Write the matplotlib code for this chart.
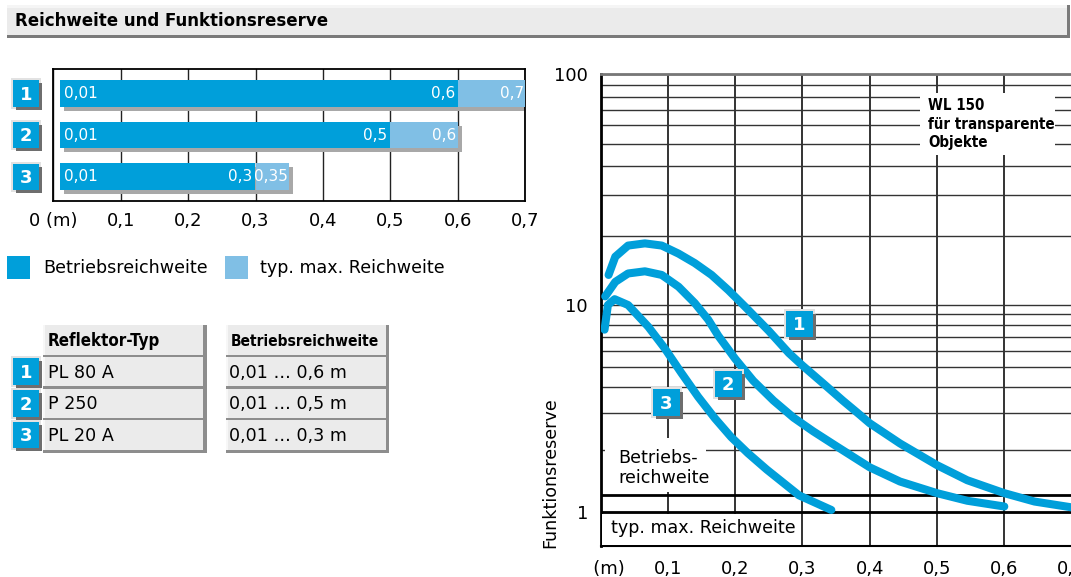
"""
Reichweite und Funktionsreserve (WL 150, transparente Objekte):
range bars per reflector, reflector table and the function-reserve curves.
"""

import numpy as np
import matplotlib
matplotlib.use("Agg")
import matplotlib.pyplot as plt
import matplotlib.transforms as mtransforms
from matplotlib.patches import Rectangle
from matplotlib.ticker import FixedLocator, NullFormatter

BLUE = "#009fda"
LIGHT = "#80bfe5"
W, H = 1071, 577

# --- range bars (m) ---
bar_ids = ["1", "2", "3"]
bar_start = [0.01, 0.01, 0.01]
bar_oper = [0.6, 0.5, 0.3]
bar_max = [0.7, 0.6, 0.35]
bar_start_lbl = ["0,01", "0,01", "0,01"]
bar_oper_lbl = ["0,6", "0,5", "0,3"]
bar_max_lbl = ["0,7", "0,6", "0,35"]
bar_xticks = [0, 0.1, 0.2, 0.3, 0.4, 0.5, 0.6, 0.7]
bar_xticklabels = ["0 (m)", "0,1", "0,2", "0,3", "0,4", "0,5", "0,6", "0,7"]

# --- reflector table ---
refl_types = ["PL 80 A", "P 250", "PL 20 A"]
refl_ranges = ["0,01 … 0,6 m", "0,01 … 0,5 m", "0,01 … 0,3 m"]

# --- function reserve curves (distance in m, reserve) ---
c1_x = [0.012, 0.022, 0.041, 0.066, 0.091, 0.116, 0.140, 0.165, 0.190, 0.215, 0.250,
        0.280, 0.300, 0.330, 0.360, 0.385, 0.400, 0.445, 0.500, 0.545, 0.600, 0.645, 0.700]
c1_y = [13.5, 16.2, 18.1, 18.5, 18.1, 16.7, 15.2, 13.5, 11.6, 9.8, 7.5,
        5.85, 5.1, 4.2, 3.45, 2.95, 2.68, 2.14, 1.68, 1.42, 1.23, 1.12, 1.05]
c2_x = [0.007, 0.022, 0.041, 0.066, 0.091, 0.116, 0.140, 0.160, 0.175, 0.200, 0.227,
        0.257, 0.287, 0.316, 0.350, 0.400, 0.445, 0.500, 0.545, 0.600]
c2_y = [10.9, 12.6, 13.7, 14.0, 13.5, 12.0, 10.2, 8.5, 7.1, 5.5, 4.3,
        3.45, 2.85, 2.45, 2.08, 1.64, 1.40, 1.23, 1.13, 1.06]
c3_x = [0.006, 0.011, 0.021, 0.041, 0.071, 0.095, 0.120, 0.145, 0.170, 0.194, 0.219,
        0.247, 0.295, 0.343]
c3_y = [7.6, 10.0, 10.6, 10.0, 7.85, 6.2, 4.7, 3.6, 2.83, 2.3, 1.92,
        1.6, 1.20, 1.02]
curve_badge_x = [0.2955, 0.190, 0.098]
curve_badge_y = [8.1, 4.15, 3.38]
oper_limit = 1.2
fx_ticks = [0, 0.1, 0.2, 0.3, 0.4, 0.5, 0.6, 0.7]
fx_labels = ["   (m)", "0,1", "0,2", "0,3", "0,4", "0,5", "0,6", "0,7"]
fy_ticks = [1, 10, 100]
fy_labels = ["1", "10", "100"]

# the drawn scale: log, but the upper decade is a bit taller than the lower one
K_UP = 230.7 / 206.7


def _fwd(v):
    with np.errstate(all="ignore"):
        l = np.log10(np.maximum(v, 1e-6))
    return np.where(l <= 1, l, 1 + (l - 1) * K_UP)


def _inv(u):
    return np.where(u <= 1, 10.0 ** u, 10.0 ** (1 + (u - 1) / K_UP))


plt.rcParams["font.family"] = "DejaVu Sans"
fig = plt.figure(figsize=(W / 100, H / 100), dpi=100)


def px_axes(x0, y0, x1, y1, **kw):
    return fig.add_axes([x0 / W, 1 - y1 / H, (x1 - x0) / W, (y1 - y0) / H], **kw)


BOLD = dict(fontweight="bold", fontstretch="condensed")

# ---------------- bar chart ----------------
axb = px_axes(53.3, 69.3, 525.1, 201)
y = np.arange(len(bar_ids))
start = np.array(bar_start)
oper = np.array(bar_oper)
mx = np.array(bar_max)
shadow = axb.transData + mtransforms.ScaledTranslation(4 / 100, -4 / 100, fig.dpi_scale_trans)
axb.barh(y, mx - start, left=start, height=0.64, color="#a8a8a8", transform=shadow, zorder=2)
axb.barh(y, mx - oper, left=oper, height=0.64, color=LIGHT, zorder=3)
axb.barh(y, oper - start, left=start, height=0.64, color=BLUE, zorder=3)
for i in range(len(y)):
    kw = dict(textcoords="offset points", va="center", color="white", fontsize=11, zorder=4)
    axb.annotate(bar_start_lbl[i], (start[i], y[i]), xytext=(3, 0), ha="left", **kw)
    axb.annotate(bar_oper_lbl[i], (oper[i], y[i]), xytext=(-2, 0), ha="right", **kw)
    axb.annotate(bar_max_lbl[i], (mx[i], y[i]), xytext=(-1, 0), ha="right", **kw)
axb.set_xlim(0, 0.7)
axb.set_ylim(2.58, -0.58)
axb.set_xticks(bar_xticks, labels=bar_xticklabels)
axb.set_yticks([])
axb.grid(axis="x", color="#222222", lw=1)
axb.set_axisbelow(True)
axb.tick_params(length=0, labelsize=13, pad=8)
for s in axb.spines.values():
    s.set_linewidth(1.3)

# ---------------- function reserve ----------------
axr = px_axes(600.5, 74.3, 1071.6, 545.7)
axr.set_yscale("function", functions=(_fwd, _inv))
for cx, cy in ((c1_x, c1_y), (c2_x, c2_y), (c3_x, c3_y)):
    axr.plot(cx, cy, color=BLUE, lw=5.8, solid_capstyle="round",
             solid_joinstyle="round", zorder=4)
axr.axhline(1, color="black", lw=2, zorder=3)
axr.axhline(oper_limit, color="black", lw=2, zorder=3)
axr.set_xlim(0, 0.7)
axr.set_ylim(0.685, 100)
axr.set_yticks(fy_ticks, labels=fy_labels)
axr.yaxis.set_minor_locator(FixedLocator(list(range(2, 10)) + list(range(20, 100, 10))))
axr.yaxis.set_minor_formatter(NullFormatter())
axr.set_xticks(fx_ticks, labels=fx_labels)
axr.grid(which="both", axis="y", color="#333333", lw=1)
axr.grid(which="major", axis="x", color="#111111", lw=1.2)
axr.set_axisbelow(True)
axr.tick_params(which="both", length=0, labelsize=13)
axr.tick_params(axis="y", pad=9)
axr.tick_params(axis="x", pad=10)
axr.spines["left"].set_linewidth(2)
axr.spines["bottom"].set_linewidth(1.5)
axr.spines["top"].set_color("#777777")
axr.spines["top"].set_linewidth(2)

# ---------------- overlay: title, legend, table, badges, notes ----------------
ov = fig.add_axes([0, 0, 1, 1], zorder=10)
ov.set_xlim(0, W)
ov.set_ylim(H, 0)
ov.axis("off")
ov.patch.set_alpha(0)


def rect(x, y0, w, h, c):
    ov.add_patch(Rectangle((x, y0), w, h, fc=c, ec="none"))


def badge(cx, cy, label, size=26.6):
    h = size / 2
    rect(cx - h - 2, cy - h - 2, size + 4, size + 4, "#e2e2e2")
    rect(cx - h + 3, cy - h + 3, size, size, "#6e6e6e")
    rect(cx - h, cy - h, size, size, BLUE)
    ov.text(cx, cy + 6.3, label, color="white", fontsize=13, fontweight="bold",
            ha="center", va="baseline")


# title bar
rect(6.8, 5, 1060.5, 30, "#ebebeb")
rect(6.8, 5, 1060.5, 3, "#f5f5f5")
rect(6.8, 35, 1063.2, 2.7, "#7a7a7a")
rect(1067.3, 5, 2.7, 32.7, "#7a7a7a")
ov.text(15.4, 21.5, "Reichweite und Funktionsreserve", fontsize=13.3, va="center", **BOLD)

# bar badges
bar_cy = axb.transData.transform(np.column_stack([np.zeros(len(y)), y]))[:, 1]
for lbl, cy in zip(bar_ids, H - bar_cy):
    badge(26, cy, lbl)

# legend
rect(6.9, 256, 23, 23, BLUE)
rect(224.9, 256, 23, 23, LIGHT)
ov.text(43, 268, "Betriebsreichweite", fontsize=12.6, va="center")
ov.text(260, 268, "typ. max. Reichweite", fontsize=12.6, va="center")

# table
cols = [(42.7, 203.3), (225.5, 386.0)]
row_top = 325.3
pitch = 31.7
cell_h = 29.4
headers = ["Reflektor-Typ", "Betriebsreichweite"]
header_fs = [12.2, 11.2]
for c, (x0, x1) in enumerate(cols):
    for r in range(len(refl_types) + 1):
        y0 = row_top + r * pitch
        rect(x0, y0, x1 - x0 + 3.4, cell_h + 2.7, "#8d8d8d")
        rect(x0, y0, x1 - x0, cell_h, "#ebebeb")
        rect(x0, y0, 2, cell_h, "#f7f7f7")
    ov.text(x0 + 5, row_top + cell_h / 2 + 1, headers[c], fontsize=header_fs[c],
            va="center", **BOLD)
for r in range(len(refl_types)):
    cy = row_top + (r + 1) * pitch + cell_h / 2 + 1
    ov.text(cols[0][0] + 5.6, cy, refl_types[r], fontsize=12.6, va="center")
    ov.text(cols[1][0] + 3.5, cy, refl_ranges[r], fontsize=12.6, va="center")
    badge(26, cy - 1, bar_ids[r])

# curve badges
pts = axr.transData.transform(np.column_stack([curve_badge_x, curve_badge_y]))
for lbl, (px, py) in zip(bar_ids, pts):
    badge(px, H - py, lbl)

# notes inside the reserve chart
rect(920, 93.3, 135, 61.7, "white")
for txt, ty in zip(["WL 150", "für transparente", "Objekte"], [106, 125, 142.7]):
    ov.text(928.3, ty, txt, fontsize=10.8, va="center", **BOLD)
rect(604.7, 438.3, 101.3, 53.4, "white")
ov.text(618, 458.3, "Betriebs-", fontsize=12.6, va="center")
ov.text(618, 478.3, "reichweite", fontsize=12.6, va="center")
rect(602, 514, 199, 30.5, "white")
ov.text(611, 528.3, "typ. max. Reichweite", fontsize=12.6, va="center")
ov.text(550, 473, "Funktionsreserve", fontsize=12.6, rotation=90, ha="center", va="center")

fig.savefig("out.png", dpi=100)
